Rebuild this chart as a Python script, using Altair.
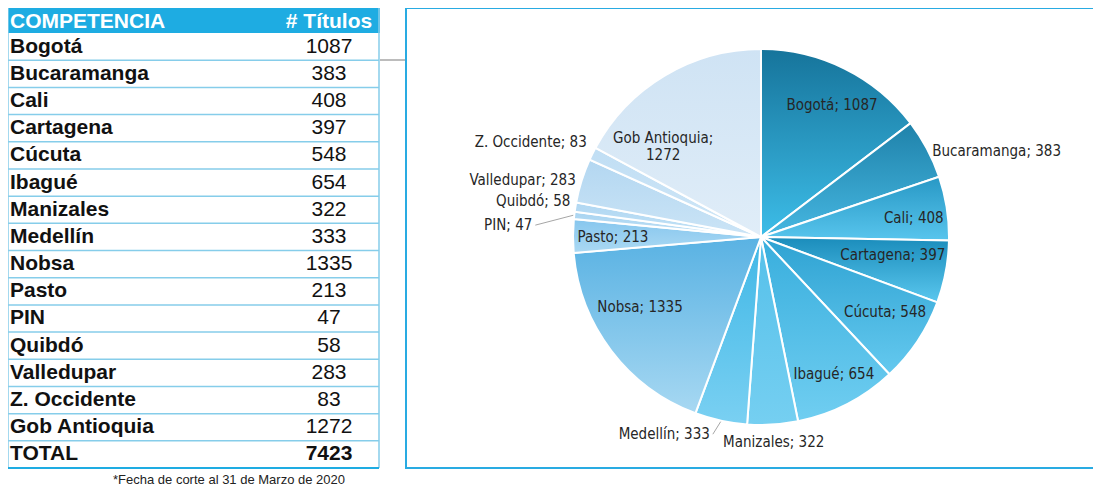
import math
import altair as alt
import pandas as pd

# ---------------- data ----------------
names = ["Bogotá", "Bucaramanga", "Cali", "Cartagena", "Cúcuta", "Ibagué",
         "Manizales", "Medellín", "Nobsa", "Pasto", "PIN", "Quibdó",
         "Valledupar", "Z. Occidente", "Gob Antioquia"]
titulos = [1087, 383, 408, 397, 548, 654, 322, 333, 1335, 213, 47, 58, 283, 83, 1272]
header_labels = ["COMPETENCIA", "# Títulos"]
total_label = "TOTAL"
footnote = "*Fecha de corte al 31 de Marzo de 2020"

# ---------------- styles / layout ----------------
slice_top = ["#16749b", "#1f82aa", "#2898c5", "#1a8cbb", "#2ea2d2", "#38aedd",
             "#55c0ea", "#3fb7e6", "#59b2e3", "#86c6ee", "#a9d4f1", "#b0d7f2",
             "#b3d7f1", "#c0def4", "#cfe3f4"]
slice_bottom = ["#3dbde8", "#46b7e1", "#58c5ed", "#5ac7ee", "#64c9ef", "#70cef1",
                "#75cff1", "#7ad0f2", "#a7d8f2", "#abd9f3", "#bfe0f5", "#c3e2f6",
                "#cbe4f6", "#d0e7f7", "#e0edf8"]
label_radius = [150, 189, 154, 133, 145, 155, 205, 203, 140, 148, 226, 191, 191, 196, 139]
label_nudge = [1.9, 0.9, 1.7, -3.0, -2.4, -0.8, 0.0, 1.4, 7.0, -0.3, -3.6, 1.6, 0.0, 2.8, -13.9]
label_align = ["center", "left", "center", "center", "center", "center", "center",
               "right", "center", "center", "right", "right", "right", "right", "center"]
label_leader = [0, 0, 0, 0, 0, 0, 0, 1, 0, 0, 1, 0, 0, 0, 0]

CX, CY, R = 753, 229, 188           # pie centre / radius (chart px)
TABLE_L, TABLE_R = 0, 371
HEAD_TOP, HEAD_BOT = 0, 25
ROW_H = 27.19
NUM_X = 321
BLUE = "#1eace2"
LINE = "#86cdea"
LABEL_FONT = "Liberation Sans Narrow, Arial Narrow, DejaVu Sans Condensed, sans-serif"
TABLE_FONT = "Liberation Sans, Arial, sans-serif"

total = sum(titulos)

# ---------------- pie table ----------------
pie = pd.DataFrame({
    "name": names,
    "value": titulos,
    "lr": label_radius,
    "nudge": label_nudge,
    "align": label_align,
    "leader": label_leader,
})
pie["end"] = pie["value"].cumsum()
pie["start"] = pie["end"] - pie["value"]
pie["a0"] = pie["start"] / total * 2 * math.pi
pie["a1"] = pie["end"] / total * 2 * math.pi
pie["label"] = pie["name"] + "; " + pie["value"].astype(str)
pie.loc[pie["name"] == "Gob Antioquia", "label"] = "Gob Antioquia;\n1272"

pbase = alt.Chart(pie).transform_calculate(
    mid="(datum.a0 + datum.a1) / 2",
).transform_calculate(
    la="datum.mid + datum.nudge * PI / 180",
).transform_calculate(
    lx=f"{CX} + datum.lr * sin(datum.la)",
    ly=f"{CY} - datum.lr * cos(datum.la)",
    ex=f"{CX} + {R + 1} * sin(datum.mid)",
    ey=f"{CY} - {R + 1} * cos(datum.mid)",
)

arc_layers = []
for i, n in enumerate(names):
    grad = alt.Gradient(
        gradient="linear",
        stops=[alt.GradientStop(color=slice_top[i], offset=0),
               alt.GradientStop(color=slice_bottom[i], offset=1)],
        x1=0, x2=0, y1=0, y2=1,
    )
    arc_layers.append(
        alt.Chart(pie).transform_filter(alt.datum.name == n).mark_arc(
            outerRadius=R, fill=grad, stroke="white", strokeWidth=2
        ).encode(
            theta=alt.Theta("a0:Q", scale=None),
            theta2="a1:Q",
            x=alt.value(CX),
            y=alt.value(CY),
        )
    )

text_layers = []
for al, dx in [("left", 3), ("center", 0), ("right", -3)]:
    text_layers.append(
        pbase.transform_filter(alt.datum.align == al).mark_text(
            align=al, baseline="middle", dx=dx, font=LABEL_FONT, fontSize=15,
            color="#262626", lineBreak="\n", lineHeight=17
        ).encode(
            x=alt.X("lx:Q", scale=None),
            y=alt.Y("ly:Q", scale=None),
            text="label:N",
        )
    )

leaders = pbase.transform_filter(alt.datum.leader == 1).mark_rule(
    color="#a6a6a6", strokeWidth=1
).encode(
    x=alt.X("ex:Q", scale=None), y=alt.Y("ey:Q", scale=None),
    x2="lx:Q", y2="ly:Q",
)

# ---------------- table ----------------
tab = pd.DataFrame({
    "name": names + [total_label],
    "value": titulos + [total],
})
tab["row"] = range(len(tab))
tab["bold"] = [0] * len(names) + [1]

tbase = alt.Chart(tab).transform_calculate(
    y0=f"{HEAD_BOT} + datum.row * {ROW_H}",
    y1=f"{HEAD_BOT} + (datum.row + 1) * {ROW_H}",
    yc=f"{HEAD_BOT} + (datum.row + 0.5) * {ROW_H}",
)

row_lines = tbase.mark_rule(color=LINE, strokeWidth=1.5).encode(
    x=alt.value(TABLE_L), x2=alt.value(TABLE_R),
    y=alt.Y("y1:Q", scale=None),
)
name_text = tbase.mark_text(
    align="left", baseline="middle", font=TABLE_FONT, fontSize=21,
    fontWeight="bold", color="#111111", dx=2
).encode(
    x=alt.value(TABLE_L), y=alt.Y("yc:Q", scale=None), text="name:N"
)
num_text = tbase.transform_filter(alt.datum.bold == 0).mark_text(
    align="center", baseline="middle", font=TABLE_FONT, fontSize=21, color="#111111"
).encode(
    x=alt.value(NUM_X), y=alt.Y("yc:Q", scale=None), text="value:Q"
)
num_total = tbase.transform_filter(alt.datum.bold == 1).mark_text(
    align="center", baseline="middle", font=TABLE_FONT, fontSize=21,
    fontWeight="bold", color="#111111"
).encode(
    x=alt.value(NUM_X), y=alt.Y("yc:Q", scale=None), text="value:Q"
)

one = pd.DataFrame({"k": [0]})
n_rows = len(tab)
table_bottom = HEAD_BOT + n_rows * ROW_H

head = pd.DataFrame({"h": header_labels, "hx": [TABLE_L + 2, NUM_X],
                     "al": ["left", "center"]})
head_rect = alt.Chart(one).mark_rect(color=BLUE).encode(
    x=alt.value(TABLE_L - 1), x2=alt.value(TABLE_R + 1),
    y=alt.value(HEAD_TOP), y2=alt.value(HEAD_BOT),
)
head_left = alt.Chart(head).transform_filter(alt.datum.al == "left").mark_text(
    align="left", baseline="middle", font=TABLE_FONT, fontSize=21,
    fontWeight="bold", color="white"
).encode(x=alt.X("hx:Q", scale=None), y=alt.value((HEAD_TOP + HEAD_BOT) / 2 + 1), text="h:N")
head_center = alt.Chart(head).transform_filter(alt.datum.al == "center").mark_text(
    align="center", baseline="middle", font=TABLE_FONT, fontSize=21,
    fontWeight="bold", color="white"
).encode(x=alt.X("hx:Q", scale=None), y=alt.value((HEAD_TOP + HEAD_BOT) / 2 + 1), text="h:N")

side_l = alt.Chart(one).mark_rule(color=LINE, strokeWidth=1.5).encode(
    x=alt.value(TABLE_L), y=alt.value(HEAD_TOP), y2=alt.value(table_bottom))
side_r = alt.Chart(one).mark_rule(color=LINE, strokeWidth=1.5).encode(
    x=alt.value(TABLE_R), y=alt.value(HEAD_TOP), y2=alt.value(table_bottom))
bottom_line = alt.Chart(one).mark_rule(color=BLUE, strokeWidth=2).encode(
    x=alt.value(TABLE_L), x2=alt.value(TABLE_R), y=alt.value(table_bottom))

foot = alt.Chart(pd.DataFrame({"t": [footnote]})).mark_text(
    align="right", baseline="middle", font=TABLE_FONT, fontSize=13, color="#222222"
).encode(x=alt.value(TABLE_R - 34), y=alt.value(table_bottom + 12), text="t:N")

# connector and pie frame
connector = alt.Chart(one).mark_rule(color="#a6a6a6", strokeWidth=1.5).encode(
    x=alt.value(TABLE_R + 1), x2=alt.value(397), y=alt.value(52))
frame = alt.Chart(one).mark_rect(
    fill=None, stroke="#29abe2", strokeWidth=2
).encode(
    x=alt.value(398), x2=alt.value(1110), y=alt.value(0), y2=alt.value(460)
)

chart = alt.layer(
    head_rect, row_lines, side_l, side_r, bottom_line, head_left, head_center,
    name_text, num_text, num_total, foot, connector, frame,
    *arc_layers, leaders, *text_layers,
).properties(
    width=1085, height=481, padding=0, autosize=alt.AutoSizeParams(type="none")
).configure_view(stroke=None)

chart.save("out.html", embed_options={"renderer": "svg", "actions": False})
